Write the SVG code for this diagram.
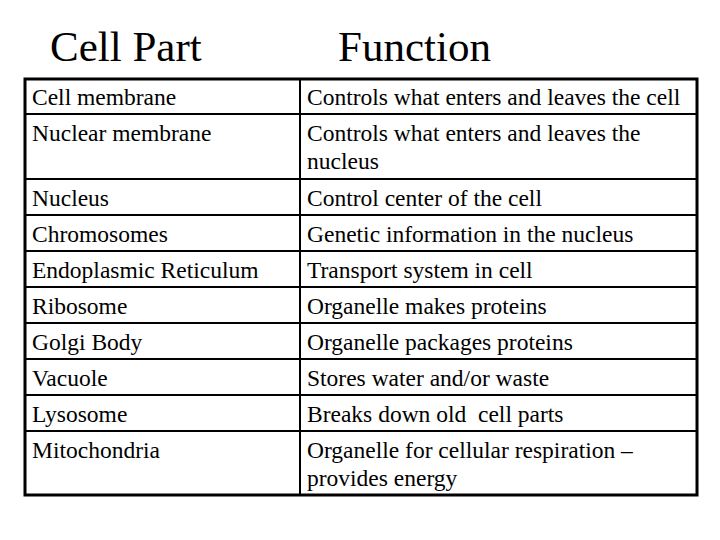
<svg xmlns="http://www.w3.org/2000/svg" width="720" height="540" viewBox="0 0 720 540">
<style>
text{font-family:"Liberation Serif","Times New Roman",serif;fill:#000}
.t{font-size:43px}
.c{font-size:23.5px}
.g{stroke:#000;stroke-width:2;fill:none}
</style>
<rect width="720" height="540" fill="#fff"/>
<g id="titles">
<text class="t" x="50" y="61">Cell Part</text>
<text class="t" x="338" y="61">Function</text>
</g>
<g id="grid" class="g">
<rect x="25" y="79" width="672" height="416" stroke-width="3"/>
<line x1="300" y1="79" x2="300" y2="495"/>
<line x1="25" y1="114" x2="697" y2="114"/>
<line x1="25" y1="179" x2="697" y2="179"/>
<line x1="25" y1="215" x2="697" y2="215"/>
<line x1="25" y1="251" x2="697" y2="251"/>
<line x1="25" y1="287" x2="697" y2="287"/>
<line x1="25" y1="323" x2="697" y2="323"/>
<line x1="25" y1="359" x2="697" y2="359"/>
<line x1="25" y1="395" x2="697" y2="395"/>
<line x1="25" y1="431" x2="697" y2="431"/>
</g>
<g id="parts" class="c">
<text x="32" y="105">Cell membrane</text>
<text x="32" y="141">Nuclear membrane</text>
<text x="32" y="206">Nucleus</text>
<text x="32" y="242">Chromosomes</text>
<text x="32" y="278">Endoplasmic Reticulum</text>
<text x="32" y="314">Ribosome</text>
<text x="32" y="350">Golgi Body</text>
<text x="32" y="386">Vacuole</text>
<text x="32" y="422">Lysosome</text>
<text x="32" y="458">Mitochondria</text>
</g>
<g id="functions" class="c">
<text x="307" y="105">Controls what enters and leaves the cell</text>
<text x="307" y="141">Controls what enters and leaves the</text>
<text x="307" y="169">nucleus</text>
<text x="307" y="206">Control center of the cell</text>
<text x="307" y="242">Genetic information in the nucleus</text>
<text x="307" y="278">Transport system in cell</text>
<text x="307" y="314">Organelle makes proteins</text>
<text x="307" y="350">Organelle packages proteins</text>
<text x="307" y="386">Stores water and/or waste</text>
<text x="307" y="422" xml:space="preserve">Breaks down old  cell parts</text>
<text x="307" y="458">Organelle for cellular respiration –</text>
<text x="307" y="486">provides energy</text>
</g>
</svg>
